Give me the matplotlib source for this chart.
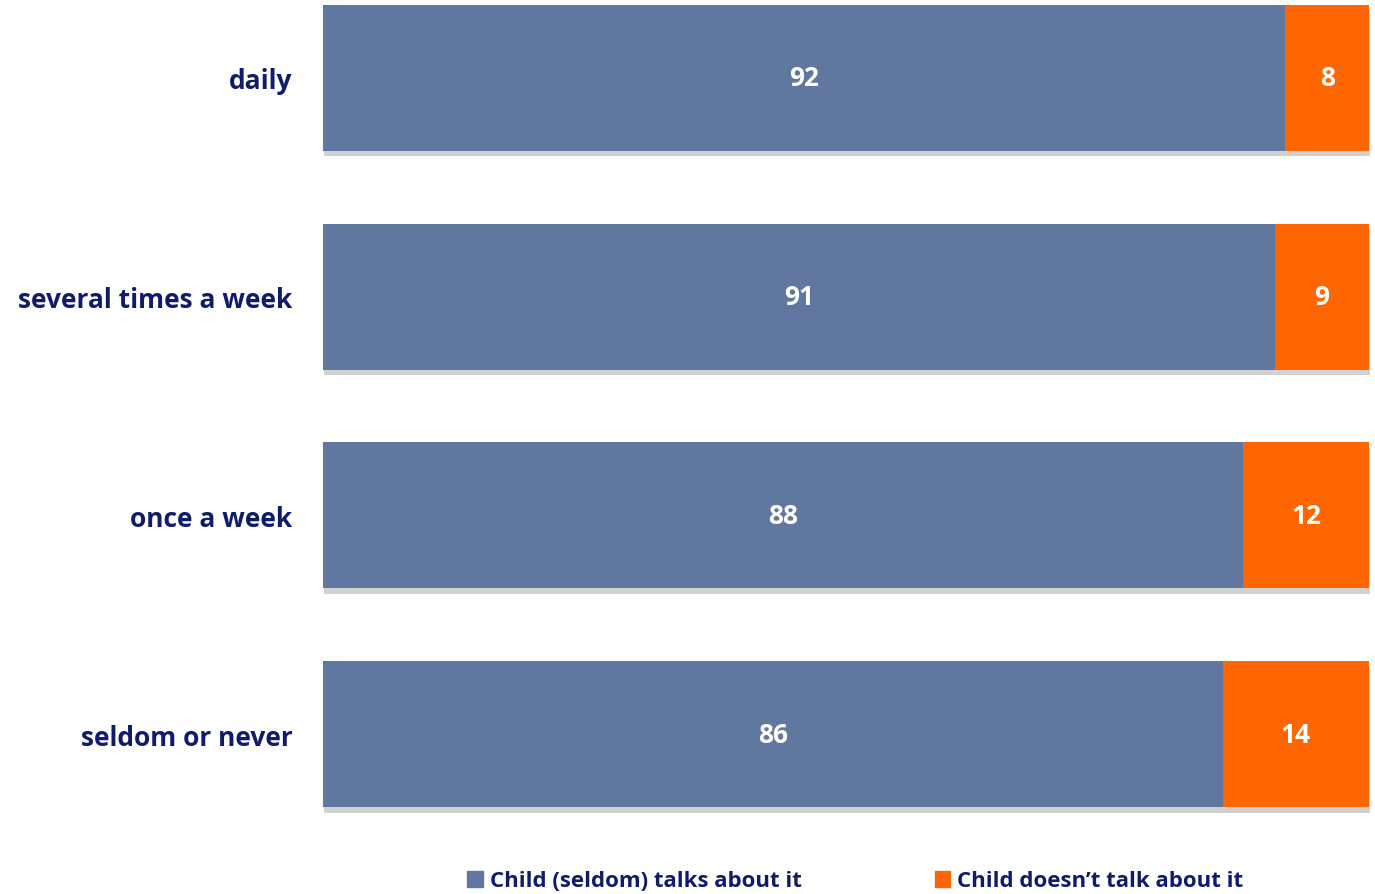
import matplotlib.pyplot as plt
import matplotlib.patheffects as pe
from matplotlib.patches import Patch
import numpy as np

categories = ["daily", "several times a week", "once a week", "seldom or never"]
talks = [92, 91, 88, 86]
not_talks = [8, 9, 12, 14]
series_names = ["Child (seldom) talks about it", "Child doesn\u2019t talk about it"]

blue = "#6077a0"
orange = "#ff6600"
navy = "#0f1c6b"

plt.rcParams['font.family'] = ['Open Sans', 'DejaVu Sans']

fig = plt.figure(figsize=(13.75, 8.95), dpi=100)
ax = fig.add_axes([323 / 1375, 1 - 808 / 895, 1046 / 1375, 802 / 895])

y = np.arange(len(categories))
shadow = [pe.SimplePatchShadow(offset=(1, -4), shadow_rgbFace="#000000", alpha=0.18), pe.Normal()]
b1 = ax.barh(y, talks, height=0.667, color=blue, path_effects=shadow, clip_on=False)
b2 = ax.barh(y, not_talks, left=talks, height=0.667, color=orange, path_effects=shadow, clip_on=False)

for i in range(len(categories)):
    ax.text(talks[i] / 2, y[i], str(talks[i]), ha="center", va="center",
            color="white", fontsize=19, fontweight="bold")
    ax.text(talks[i] + not_talks[i] / 2, y[i], str(not_talks[i]), ha="center", va="center",
            color="white", fontsize=19, fontweight="bold")

ax.set_xlim(0, 100)
ax.set_ylim(3.333, -0.333)
ax.set_yticks(y)
ax.set_yticklabels(categories, fontsize=19, fontweight="bold", color=navy)
ax.tick_params(axis="y", length=0, pad=22)
ax.set_xticks([])
for s in ax.spines.values():
    s.set_visible(False)

handles = [Patch(color=blue), Patch(color=orange)]
leg = fig.legend(handles, series_names, loc="center", bbox_to_anchor=(0.622, 1 - 882 / 895),
                 ncol=2, frameon=False, handlelength=0.7, handleheight=0.7, handletextpad=0.3,
                 columnspacing=6.0, prop={"size": 16, "weight": "bold"})
for t in leg.get_texts():
    t.set_color(navy)

fig.savefig("out.png", dpi=100)
